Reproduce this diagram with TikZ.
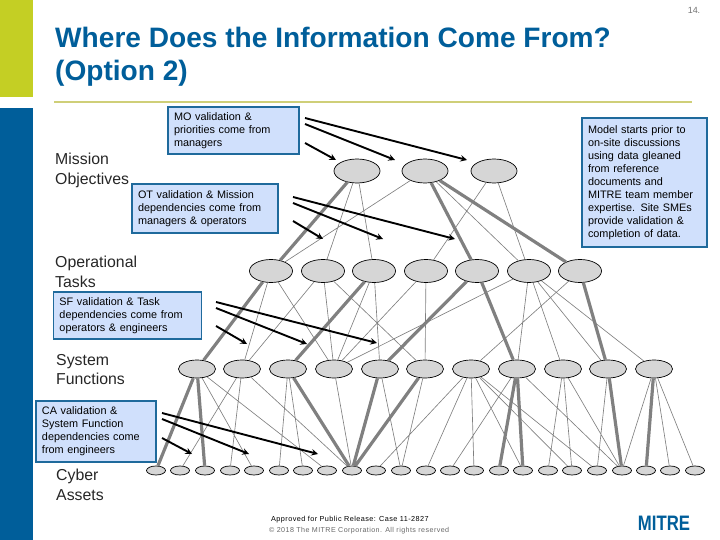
\documentclass[tikz,border=0pt]{standalone}
\usepackage{fontspec}
\setmainfont{Liberation Sans}
\usetikzlibrary{arrows,shapes.geometric,backgrounds}

\definecolor{mitreblue}{HTML}{005E9A}
\definecolor{barlime}{HTML}{C4CF24}
\definecolor{rulelime}{HTML}{CFCF78}
\definecolor{boxblue}{HTML}{D0E0FC}
\definecolor{boxedge}{HTML}{1F6A9C}
\definecolor{bubble}{HTML}{D6D6D6}
\definecolor{linkgray}{HTML}{808080}

\tikzset{
  mobubble/.style={draw=black,fill=bubble,ellipse,inner sep=0pt,line width=0.7pt,
    minimum width=46bp,minimum height=24bp},
  otbubble/.style={mobubble,minimum width=43bp,minimum height=23bp},
  sfbubble/.style={mobubble,minimum width=37bp,minimum height=18bp},
  cabubble/.style={mobubble,minimum width=19bp,minimum height=9bp},
  thinlink/.style={linkgray,line width=0.65pt},
  thicklink/.style={linkgray,line width=3.2pt},
  infoarrow/.style={->,>=stealth,black,line width=1.9pt},
  notebox/.style={draw=boxedge,fill=boxblue,line width=1.6pt,inner sep=0pt,align=left,
    font=\fontsize{10.9}{13}\selectfont},
  levellabel/.style={anchor=north west,inner sep=0pt,align=left,text=black!85,
    font=\fontsize{15.9}{19.5}\selectfont}
}

\begin{document}
\begin{tikzpicture}[x=1bp,y=-1bp]
  \useasboundingbox (0,0) rectangle (720,540);
  % side bars and rule
  \fill [barlime] (0,0) rectangle (33,97);
  \fill [mitreblue] (0,108) rectangle (33,540);
  \draw [rulelime,line width=1.6pt] (54,102) -- (692,102);
  % title
  \node (title) [anchor=north west,inner sep=0pt,align=left,text=mitreblue,
    font=\fontsize{28.2}{33}\bfseries\selectfont] at (55,27)
    {Where Does the Information Come From?\\(Option 2)};
  \node (pagenum) [text=black!55,font=\fontsize{9}{10}\selectfont] at (694,10) {14.};
  % bubbles
  \foreach \n/\x in {1/357,2/425,3/494}
    \node [mobubble] (mo\n) at (\x,171) {};
  \foreach \n/\x in {1/271,2/323,3/374,4/426,5/477,6/529,7/580}
    \node [otbubble] (ot\n) at (\x,271) {};
  \foreach \n/\x in {1/197,2/242,3/288,4/334,5/380,6/425,7/471,8/517,9/563,10/608,11/654}
    \node [sfbubble] (sf\n) at (\x,369) {};
  \foreach \n/\x in {1/156,2/180,3/205,4/230,5/254,6/279,7/303,8/327,9/352,10/376,11/401,
      12/426,13/450,14/474,15/499,16/523,17/548,18/572,19/597,20/622,21/646,22/670,23/695}
    \node [cabubble] (ca\n) at (\x,470.5) {};
  % links, first level
  \draw [thicklink] (mo1) -- (ot1) (mo2) -- (ot5) (mo2) -- (ot7);
  \draw [thinlink] (mo1) -- (ot2) (mo1) -- (ot3) (mo2) -- (ot1) (mo2) -- (ot6)
    (mo3) -- (ot4) (mo3) -- (ot6);
  % links, second level
  \draw [thicklink] (ot1) -- (sf1) (ot3) -- (sf3) (ot5) -- (sf5) (ot5) -- (sf8) (ot7) -- (sf10);
  \draw [thinlink] (ot1) -- (sf2) (ot1) -- (sf4) (ot2) -- (sf2) (ot2) -- (sf4) (ot2) -- (sf6)
    (ot3) -- (sf4) (ot3) -- (sf5) (ot4) -- (sf4) (ot4) -- (sf6) (ot6) -- (sf4) (ot6) -- (sf8)
    (ot6) -- (sf9) (ot6) -- (sf10) (ot6) -- (sf11) (ot7) -- (sf7);
  % links, third level
  \draw [thicklink] (sf1) -- (ca1) (sf1) -- (ca3) (sf3) -- (ca9) (sf5) -- (ca9) (sf6) -- (ca9)
    (sf8) -- (ca15) (sf8) -- (ca16) (sf10) -- (ca20) (sf11) -- (ca21);
  \draw [thinlink] (sf1) -- (ca5) (sf1) -- (ca8) (sf2) -- (ca2) (sf2) -- (ca4) (sf2) -- (ca9)
    (sf3) -- (ca6) (sf3) -- (ca7) (sf4) -- (ca9) (sf5) -- (ca11) (sf6) -- (ca11)
    (sf7) -- (ca10) (sf7) -- (ca12) (sf7) -- (ca14) (sf7) -- (ca16) (sf7) -- (ca18) (sf7) -- (ca19)
    (sf8) -- (ca13) (sf8) -- (ca20) (sf9) -- (ca17) (sf9) -- (ca18) (sf9) -- (ca20)
    (sf10) -- (ca19) (sf11) -- (ca20) (sf11) -- (ca22) (sf11) -- (ca23);
  % arrows
  \foreach \a/\fx/\fy/\tx/\ty in {moa/305/118/467/160,mob/305/124/395/160,moc/305/143/336/160,
      ota/293/197/455/239,otb/293/203/383/239,otc/293/221/323/239,
      sfa/216/302/377/343,sfb/216/308/307/344,sfc/216/326/247/344,
      caa/162/413/318/454,cab/162/419/249/454,cac/162/438/192/454} {
    \coordinate (\a from) at (\fx,\fy);
    \coordinate (\a to) at (\tx,\ty);
    \draw [infoarrow] (\a from) -- (\a to);
  }
  % note boxes
  \node (monote) [notebox,minimum width=131bp,minimum height=47bp,text width=119bp] at (233.5,130.5)
    {MO validation \&\\priorities come from\\managers};
  \node (otnote) [notebox,minimum width=146bp,minimum height=49bp,text width=134bp] at (205,208.5)
    {OT validation \& Mission\\dependencies come from\\managers \& operators};
  \node (sfnote) [notebox,minimum width=148bp,minimum height=47bp,text width=136bp] at (127.5,315.5)
    {SF validation \& Task\\dependencies come from\\operators \& engineers};
  \node (canote) [notebox,minimum width=120bp,minimum height=61bp,text width=108bp] at (96,431.5)
    {CA validation \&\\System Function\\dependencies come\\from engineers};
  \node (modelnote) [notebox,minimum width=125bp,minimum height=129bp,text width=113bp] at (644.5,182.5)
    {Model starts prior to\\on-site discussions\\using data gleaned\\from reference\\documents and\\MITRE team member\\expertise.  Site SMEs\\provide validation \&\\completion of data.};
  % level names
  \node (molabel) [levellabel] at (55,153) {Mission\\Objectives};
  \node (otlabel) [levellabel] at (55,256) {Operational\\Tasks};
  \node (sflabel) [levellabel] at (56,354) {System\\Functions};
  \node (calabel) [levellabel] at (56,469) {Cyber\\Assets};
  % footer
  \node (release) [anchor=west,inner sep=0pt,font=\fontsize{7.3}{8}\selectfont\addfontfeature{LetterSpace=6}]
    at (271,520) {Approved for Public Release:  Case 11-2827};
  \node (copyright) [anchor=west,inner sep=0pt,text=black!60,font=\fontsize{7.15}{8}\selectfont\addfontfeature{LetterSpace=6}]
    at (269,531) {© 2018 The MITRE Corporation. All rights reserved};
  \node (logo) [anchor=center,inner sep=0pt,text=mitreblue,font=\fontsize{21}{21}\bfseries\selectfont]
    at (664,523.5) {\scalebox{0.8}[1]{MITRE}};
\end{tikzpicture}
\end{document}
